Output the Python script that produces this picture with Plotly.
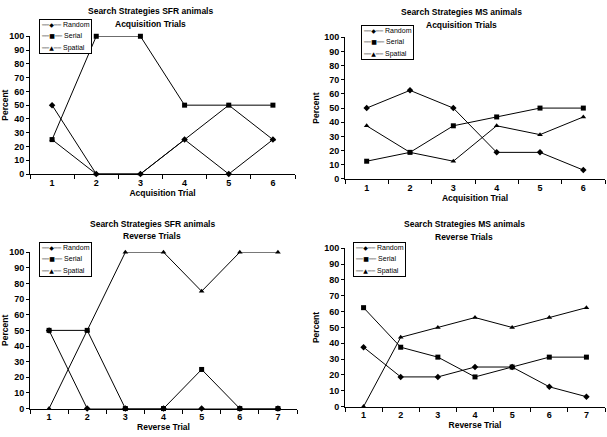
import plotly.graph_objects as go

# ---- data ----
acq_trials = [1, 2, 3, 4, 5, 6]
rev_trials = [1, 2, 3, 4, 5, 6, 7]

sfr_acq_random = [50, 0, 0, 25, 0, 25]
sfr_acq_serial = [25, 100, 100, 50, 50, 50]
sfr_acq_spatial = [25, 0, 0, 25, 50, 25]

ms_acq_random = [50, 62.5, 50, 18.75, 18.75, 6.25]
ms_acq_serial = [12.5, 18.75, 37.5, 43.75, 50, 50]
ms_acq_spatial = [37.5, 18.75, 12.5, 37.5, 31.25, 43.75]

sfr_rev_random = [50, 0, 0, 0, 0, 0, 0]
sfr_rev_serial = [50, 50, 0, 0, 25, 0, 0]
sfr_rev_spatial = [0, 50, 100, 100, 75, 100, 100]

ms_rev_random = [37.5, 18.75, 18.75, 25, 25, 12.5, 6.25]
ms_rev_serial = [62.5, 37.5, 31.25, 18.75, 25, 31.25, 31.25]
ms_rev_spatial = [0, 43.75, 50, 56.25, 50, 56.25, 62.5]

series_names = ["Random", "Serial", "Spatial"]
y_ticks = [0, 10, 20, 30, 40, 50, 60, 70, 80, 90, 100]

W, H = 607, 437
FONT = "Liberation Sans, Arial, sans-serif"


def px2x(px):
    return px / W


def py2y(py):
    return 1 - py / H


panels = [
    dict(x=acq_trials, ys=[sfr_acq_random, sfr_acq_serial, sfr_acq_spatial],
         title1="Search Strategies SFR animals", title2="Acquisition Trials",
         xtitle="Acquisition Trial", px=(30, 295), py=(32, 173),
         tcx=150, t1y=6, t2y=19, leg=(39, 14)),
    dict(x=acq_trials, ys=[ms_acq_random, ms_acq_serial, ms_acq_spatial],
         title1="Search Strategies MS animals", title2="Acquisition Trials",
         xtitle="Acquisition Trial", px=(345, 605), py=(33, 178),
         tcx=461, t1y=7, t2y=20, leg=(361, 20)),
    dict(x=rev_trials, ys=[sfr_rev_random, sfr_rev_serial, sfr_rev_spatial],
         title1="Search Strategies SFR animals", title2="Reverse Trials",
         xtitle="Reverse Trial", px=(30, 297), py=(253, 413),
         tcx=152, t1y=224, t2y=236, leg=(39, 243)),
    dict(x=rev_trials, ys=[ms_rev_random, ms_rev_serial, ms_rev_spatial],
         title1="Search Strategies MS animals", title2="Reverse Trials",
         xtitle="Reverse Trial", px=(345, 605), py=(249, 411),
         tcx=464, t1y=224, t2y=237, leg=(353, 243)),
]

symbols = ["diamond", "square", "triangle-up"]
glyphs = ["◆", "■", "▲"]

fig = go.Figure()
annotations = []
for i, p in enumerate(panels):
    n = i + 1
    xa = "x" if n == 1 else f"x{n}"
    ya = "y" if n == 1 else f"y{n}"
    for name, yv, sym in zip(series_names, p["ys"], symbols):
        fig.add_trace(go.Scatter(
            x=p["x"], y=yv, name=name, mode="lines+markers",
            line=dict(color="black", width=1),
            marker=dict(symbol=sym, size=5, color="black"),
            xaxis=xa, yaxis=ya, cliponaxis=False, showlegend=False,
        ))
    nx = len(p["x"])
    xdom = [px2x(p["px"][0]), px2x(p["px"][1])]
    ydom = [py2y(p["py"][1]), py2y(p["py"][0])]
    bounds = [k + 0.5 for k in range(0, nx + 1)]
    fig.layout[("xaxis" if n == 1 else f"xaxis{n}")] = dict(
        domain=xdom, anchor=ya, range=[0.5, nx + 0.5],
        tickvals=p["x"], ticks="", showgrid=False, zeroline=False,
        showline=True, linecolor="black", linewidth=1,
        tickfont=dict(family=FONT, size=9, color="black", weight="bold"),
        minor=dict(tickvals=bounds, ticks="outside", ticklen=4,
                   tickcolor="black", showgrid=False),
        title=dict(text=p["xtitle"], standoff=1,
                   font=dict(family=FONT, size=8.5, color="black", weight="bold")),
    )
    fig.layout[("yaxis" if n == 1 else f"yaxis{n}")] = dict(
        domain=ydom, anchor=xa, range=[0, 100], tickvals=y_ticks,
        ticks="outside", ticklen=3, tickcolor="black",
        showgrid=False, zeroline=False,
        showline=True, linecolor="black", linewidth=1,
        tickfont=dict(family=FONT, size=9, color="black", weight="bold"),
        title=dict(text="Percent", standoff=3,
                   font=dict(family=FONT, size=8.5, color="black", weight="bold")),
    )
    leg_lines = [
        f'<span style="font-family:DejaVu Sans;font-size:6px">──{g}──</span>'
        f'<span style="font-size:7px"> {nm}</span>'
        for g, nm in zip(glyphs, series_names)
    ]
    annotations.append(dict(
        text="<br>".join(leg_lines), x=px2x(p["leg"][0]), y=py2y(p["leg"][1]),
        xref="paper", yref="paper", xanchor="left", yanchor="top",
        align="left", showarrow=False, bgcolor="white",
        bordercolor="black", borderwidth=1, borderpad=1,
        font=dict(family=FONT, size=8.8, color="black"),
    ))
    for txt, ty in ((p["title1"], p["t1y"]), (p["title2"], p["t2y"])):
        annotations.append(dict(
            text=txt, x=px2x(p["tcx"]), y=py2y(ty), xref="paper", yref="paper",
            xanchor="center", yanchor="middle", showarrow=False,
            font=dict(family=FONT, size=8.5, color="black", weight="bold"),
        ))

fig.update_layout(
    width=W, height=H, margin=dict(l=0, r=0, t=0, b=0),
    paper_bgcolor="white", plot_bgcolor="white",
    annotations=annotations, showlegend=False,
)

fig.write_html(
    "out.html",
    config={"displayModeBar": False},
    post_script="document.body.style.margin='0';document.body.style.overflow='hidden';",
)
